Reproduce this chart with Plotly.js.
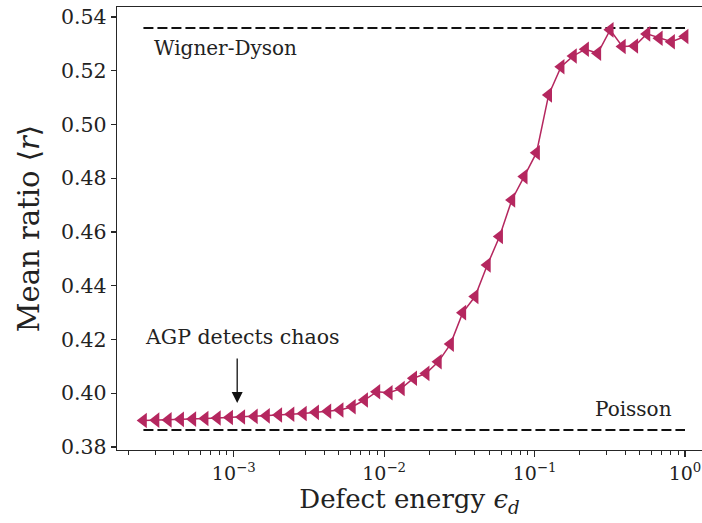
<!DOCTYPE html>
<html>
<head>
<meta charset="utf-8">
<script src="https://cdn.plot.ly/plotly-3.0.1.min.js"></script>
<style>html,body{margin:0;padding:0;background:#fff;}#chart{width:702px;height:523px;}</style>
</head>
<body>
<div id="chart"></div>
<script>
// Defect energy values (log-spaced)
var defectEnergy = [
  0.000251, 0.000304, 0.000367, 0.000443, 0.000534, 0.000645, 0.000778, 0.000938, 0.00113,
  0.00137, 0.00165, 0.00199, 0.00240, 0.00290, 0.00350, 0.00422, 0.00509, 0.00614,
  0.00741, 0.00894, 0.0108, 0.0130, 0.0157, 0.0190, 0.0229, 0.0276, 0.0333,
  0.0402, 0.0485, 0.0585, 0.0706, 0.0852, 0.103, 0.124, 0.150, 0.181,
  0.218, 0.263, 0.318, 0.383, 0.463, 0.558, 0.674, 0.813, 1.0
];
// Mean ratio <r>
var meanRatio = [
  0.3899, 0.3900, 0.3901, 0.3903, 0.3904, 0.3906, 0.3908, 0.3910, 0.3912,
  0.3914, 0.3916, 0.3919, 0.3922, 0.3925, 0.3929, 0.3933, 0.3938, 0.3950,
  0.3975, 0.4006, 0.4002, 0.4018, 0.4056, 0.4074, 0.4117, 0.4183, 0.4300,
  0.4360, 0.4477, 0.4583, 0.4719, 0.4806, 0.4895, 0.5110, 0.5215, 0.5255,
  0.5280, 0.5265, 0.5352, 0.5290, 0.5292, 0.5337, 0.5321, 0.5308, 0.5327
];
var wignerDyson = 0.5359;
var poisson = 0.3863;
var refX = [0.000251, 1.0];

var xTickVals = [0.001, 0.01, 0.1, 1];
var xTickText = ['10<sup>\u22123</sup>', '10<sup>\u22122</sup>', '10<sup>\u22121</sup>', '10<sup>0</sup>'];
var xMinorVals = [];
[0.0001, 0.001, 0.01, 0.1].forEach(function (d) {
  for (var m = 2; m <= 9; m++) xMinorVals.push(m * d);
});
var yTickVals = [0.38, 0.40, 0.42, 0.44, 0.46, 0.48, 0.50, 0.52, 0.54];

var col = '#b5275f';
var serif = 'DejaVu Serif, Liberation Serif, serif';
var axCol = '#262626';

var traces = [
  {x: refX, y: [wignerDyson, wignerDyson], mode: 'lines', type: 'scatter',
   line: {color: '#111', width: 2, dash: '10px,4px'}, hoverinfo: 'skip'},
  {x: refX, y: [poisson, poisson], mode: 'lines', type: 'scatter',
   line: {color: '#111', width: 2, dash: '10px,4px'}, hoverinfo: 'skip'},
  {x: defectEnergy, y: meanRatio, mode: 'lines+markers', type: 'scatter',
   line: {color: col, width: 1.5},
   marker: {symbol: 'triangle-left', size: 13.5, color: col}}
];

var layout = {
  width: 702, height: 523,
  margin: {l: 117, r: 0, t: 7, b: 73},
  paper_bgcolor: '#fff', plot_bgcolor: '#fff',
  showlegend: false,
  font: {family: serif, color: '#222'},
  xaxis: {
    type: 'log',
    range: [-3.776, 0.113],
    tickmode: 'array', tickvals: xTickVals, ticktext: xTickText,
    tickfont: {family: serif, size: 19, color: '#222'},
    ticks: 'outside', ticklen: 6, tickwidth: 1.2, tickcolor: axCol,
    minor: {tickmode: 'array', tickvals: xMinorVals, ticks: 'outside', ticklen: 3.5, tickwidth: 1, tickcolor: axCol, showgrid: false},
    showline: true, linecolor: axCol, linewidth: 1.3, mirror: true,
    showgrid: false, zeroline: false,
    title: {text: 'Defect energy <i>\u03F5</i><sub><i>d</i></sub>', font: {family: serif, size: 26, color: '#222'}, standoff: 6}
  },
  yaxis: {
    range: [0.3789, 0.5437],
    tickmode: 'array', tickvals: yTickVals, tickformat: '.2f',
    tickfont: {family: serif, size: 20.5, color: '#222'},
    ticks: 'outside', ticklen: 5, tickwidth: 1.2, tickcolor: axCol,
    showline: true, linecolor: axCol, linewidth: 1.3, mirror: false,
    showgrid: false, zeroline: false,
    title: {text: 'Mean ratio \u27E8<i>r</i>\u27E9', font: {family: serif, size: 29, color: '#222'}, standoff: 12}
  },
  annotations: [
    {xref: 'x', yref: 'y', x: -3.541, y: 0.5285, text: 'Wigner-Dyson', showarrow: false,
     xanchor: 'left', yanchor: 'middle', font: {family: serif, size: 20, color: '#222'}},
    {xref: 'x', yref: 'y', x: -0.612, y: 0.3941, text: 'Poisson', showarrow: false,
     xanchor: 'left', yanchor: 'middle', font: {family: serif, size: 20, color: '#222'}},
    {xref: 'x', yref: 'y', x: -3.601, y: 0.4209, text: 'AGP detects chaos', showarrow: false,
     xanchor: 'left', yanchor: 'middle', font: {family: serif, size: 20.5, color: '#222'}},
    {xref: 'x', yref: 'y', axref: 'x', ayref: 'y', x: -2.977, y: 0.3964, ax: -2.977, ay: 0.4135,
     text: '', showarrow: true, arrowhead: 2, arrowsize: 1.7, arrowwidth: 1.3, arrowcolor: '#111', standoff: 0}
  ]
};

Plotly.newPlot('chart', traces, layout, {displayModeBar: false, staticPlot: true});
</script>
</body>
</html>
